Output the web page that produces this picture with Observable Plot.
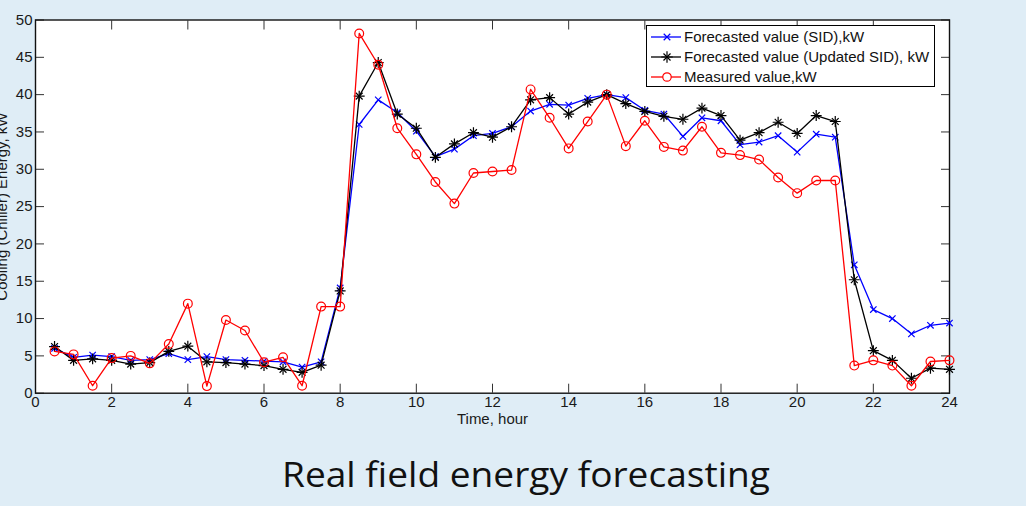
<!DOCTYPE html>
<html>
<head>
<meta charset="utf-8">
<script src="https://cdn.jsdelivr.net/npm/d3@7"></script>
<script src="https://cdn.jsdelivr.net/npm/@observablehq/plot@0.6"></script>
<style>
  html, body { margin: 0; padding: 0; background: #dfedf6; width: 1026px; height: 506px; overflow: hidden; }
  #chart { position: absolute; left: 0; top: 15px; }
  #legend { position: absolute; left: 646px; top: 25px; width: 287px; height: 60px; border: 1.3px solid #000; background: #fff;
            font-family: "Liberation Sans", Arial, sans-serif; font-size: 15px; color: #111; }
  #legend .row { position: absolute; left: 0; height: 20px; display: flex; align-items: center; white-space: nowrap; }
  #legend svg { display: block; margin-right: 1px; }
  #title { position: absolute; left: 0; top: 0; }
</style>
</head>
<body>
<div id="chart"></div>
<div id="legend"></div>
<svg id="title" width="1026" height="506"></svg>
<script>
const hours = [0.5,1,1.5,2,2.5,3,3.5,4,4.5,5,5.5,6,6.5,7,7.5,8,8.5,9,9.5,10,10.5,11,11.5,12,12.5,13,13.5,14,14.5,15,15.5,16,16.5,17,17.5,18,18.5,19,19.5,20,20.5,21,21.5,22,22.5,23,23.5,24];
const sidForecast = [6.0,4.8,5.1,4.9,4.4,4.5,5.3,4.5,4.9,4.5,4.4,4.3,4.2,3.5,4.2,14.1,
  36.0,39.3,37.6,35.1,31.7,32.7,34.5,34.8,35.7,37.8,38.7,38.6,39.5,40.0,39.6,37.9,37.4,
  34.4,36.9,36.5,33.3,33.65,34.5,32.3,34.7,34.3,
  17.2,11.2,10.0,7.95,9.1,9.4];
const updatedForecast = [6.25,4.4,4.6,4.4,3.9,4.1,5.6,6.3,4.2,4.1,3.9,3.7,3.2,2.8,3.75,13.7,
  39.8,44.3,37.4,35.5,31.6,33.4,34.9,34.3,35.7,39.3,39.6,37.4,39.0,40.0,38.8,37.75,37.1,
  36.7,38.2,37.2,33.9,34.9,36.3,34.8,37.2,36.4,
  15.2,5.7,4.4,2.0,3.35,3.2];
const measured = [5.6,5.2,1.0,4.7,5.0,4.0,6.6,12.0,0.95,9.8,8.4,4.15,4.8,1.0,11.6,11.6,
  48.2,44.0,35.5,32.0,28.3,25.4,29.5,29.7,29.9,40.7,36.9,32.8,36.4,40.0,33.1,36.5,33.0,
  32.5,35.7,32.2,31.9,31.3,28.9,26.8,28.5,28.5,
  3.7,4.4,3.7,1.0,4.25,4.4];
const seriesNames = ["Forecasted value (SID),kW", "Forecasted value (Updated SID), kW", "Measured value,kW"];
const xTicks = [0,2,4,6,8,10,12,14,16,18,20,22,24];
const yTicks = [0,5,10,15,20,25,30,35,40,45,50];
const xLabel = "Time, hour";
const yLabel = "Cooling (Chiller) Energy, kW";
const titleText = "Real field energy forecasting";

const rows = (vals) => hours.map((h, i) => ({h, v: vals[i]}));
const sidRows = rows(sidForecast), updRows = rows(updatedForecast), meaRows = rows(measured);
const fmt = d => String(d);

const plot = Plot.plot({
  width: 1026, height: 420,
  marginLeft: 35, marginRight: 77, marginTop: 4.5, marginBottom: 42.3,
  style: {background: "transparent", fontFamily: "'Liberation Sans', Arial, sans-serif", fontSize: "15px", color: "#1a1a1a", overflow: "hidden"},
  x: {domain: [0, 24], label: null},
  y: {domain: [0, 50], label: null},
  marks: [
    Plot.frame({fill: "white", stroke: null}),
    Plot.axisX(xTicks, {anchor: "bottom", tickSize: -9, tickPadding: 12, tickFormat: fmt, stroke: "#333", fontSize: 15, label: null}),
    Plot.axisX(xTicks, {anchor: "top", tickSize: -9, tickFormat: () => "", stroke: "#333", label: null}),
    Plot.axisY(yTicks, {anchor: "left", tickSize: -9, tickPadding: 12, tickFormat: fmt, stroke: "#333", fontSize: 15, label: null}),
    Plot.axisY(yTicks, {anchor: "right", tickSize: -9, tickFormat: () => "", stroke: "#333", label: null}),
    Plot.frame({stroke: "#111", strokeWidth: 1.4}),
    Plot.line(sidRows, {x: "h", y: "v", stroke: "#0000ff", strokeWidth: 1.3}),
    Plot.dot(sidRows, {x: "h", y: "v", symbol: "times", r: 3, stroke: "#0000ff", strokeWidth: 1.2}),
    Plot.line(updRows, {x: "h", y: "v", stroke: "#000", strokeWidth: 1.3}),
    Plot.dot(updRows, {x: "h", y: "v", symbol: "plus", r: 3.6, stroke: "#000", strokeWidth: 1.2}),
    Plot.dot(updRows, {x: "h", y: "v", symbol: "times", r: 3.2, stroke: "#000", strokeWidth: 1.2}),
    Plot.line(meaRows, {x: "h", y: "v", stroke: "#ff0000", strokeWidth: 1.3}),
    Plot.dot(meaRows, {x: "h", y: "v", symbol: "circle", r: 4.4, stroke: "#ff0000", fill: "none", strokeWidth: 1.2}),
    Plot.text([xLabel], {frameAnchor: "bottom", dy: 26, lineAnchor: "middle", textAnchor: "middle", fontSize: 15, fill: "#1a1a1a"}),
    Plot.text([yLabel], {frameAnchor: "left", dx: -29, rotate: -90, lineAnchor: "bottom", textAnchor: "middle", fontSize: 15, fill: "#1a1a1a"})
  ]
});
document.getElementById("chart").appendChild(plot);

// Legend
const legend = document.getElementById("legend");
const legendStyles = [
  {color: "#0000ff", marks: [d3.symbolTimes], sizes: [30]},
  {color: "#000", marks: [d3.symbolPlus, d3.symbolTimes], sizes: [45, 34]},
  {color: "#ff0000", marks: [d3.symbolCircle], sizes: [56]}
];
seriesNames.forEach((name, i) => {
  const row = document.createElement("div");
  row.className = "row";
  row.style.top = (i * 20 + 0.5) + "px";
  const st = legendStyles[i];
  const s = d3.create("svg").attr("width", 36).attr("height", 12);
  s.append("line").attr("x1", 4).attr("x2", 34).attr("y1", 6).attr("y2", 6).attr("stroke", st.color).attr("stroke-width", 1.3);
  st.marks.forEach((m, k) => {
    s.append("path").attr("d", d3.symbol(m, st.sizes[k])()).attr("transform", "translate(20,6)")
      .attr("fill", i === 2 ? "white" : "none").attr("stroke", st.color).attr("stroke-width", 1.2);
  });
  row.appendChild(s.node());
  const t = document.createElement("span");
  t.textContent = name;
  row.appendChild(t);
  legend.appendChild(row);
});

// Title
d3.select("#title").append("text")
  .attr("x", 526).attr("y", 487)
  .attr("text-anchor", "middle")
  .attr("textLength", 488).attr("lengthAdjust", "spacingAndGlyphs")
  .attr("font-family", "'Open Sans', 'Noto Sans', sans-serif")
  .attr("font-size", 35).attr("fill", "#111")
  .text(titleText);
</script>
</body>
</html>
